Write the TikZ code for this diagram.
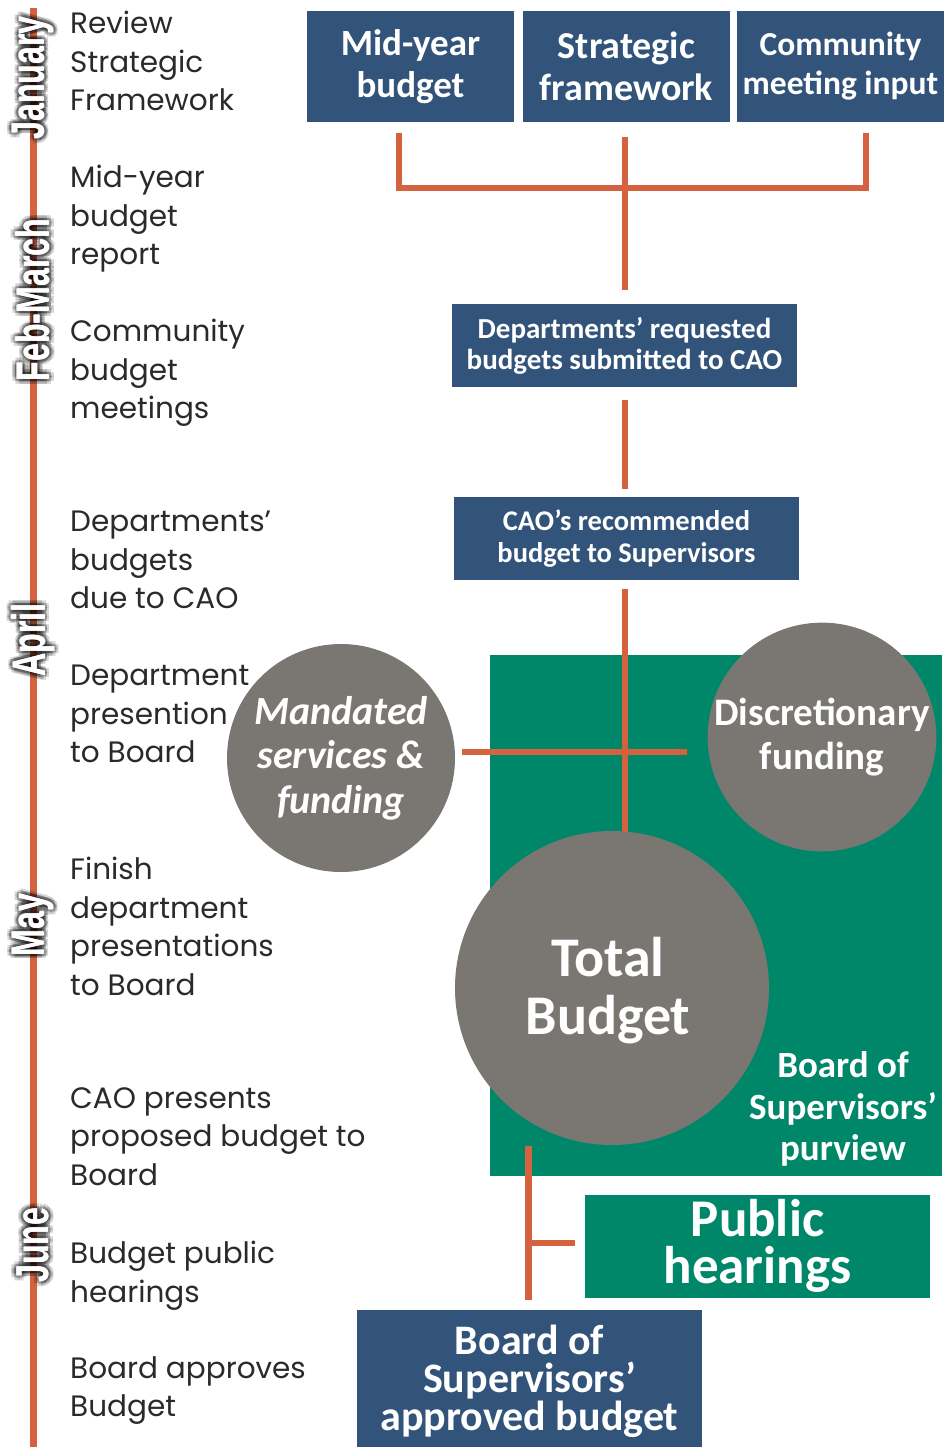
\documentclass[tikz,border=0pt]{standalone}
\usepackage{fontspec}
\setmainfont{Poppins}
\newfontfamily\boxfont{Carlito}
\newfontfamily\monthfont{Liberation Sans}
\usetikzlibrary{calc}
\definecolor{tl}{HTML}{D4623F}
\definecolor{navy}{HTML}{33547A}
\definecolor{teal}{HTML}{00876A}
\definecolor{cgray}{HTML}{7A7772}
\definecolor{txt}{HTML}{2A2A2A}
\tikzset{
  conn/.style={draw=tl, line width=6.5pt},
  timeline/.style={draw=tl, line width=7pt},
  bluebox/.style={rectangle, fill=navy, text=white, font=\boxfont\bfseries, align=center, inner sep=0pt},
  greenbox/.style={rectangle, fill=teal, text=white, font=\boxfont\bfseries, align=center, inner sep=0pt},
  bubble/.style={circle, fill=cgray, text=white, align=center, inner sep=0pt},
  lefttext/.style={anchor=north west, align=left, inner sep=0pt, text=txt, font=\fontsize{29.5}{38.5}\selectfont},
  monthlbl/.style={rotate=90, inner sep=0pt, text=white, font=\monthfont\bfseries\fontsize{46}{46}\selectfont},
  monthshadow/.style={rotate=90, inner sep=0pt, text=black, opacity=0.16, font=\monthfont\bfseries\fontsize{46}{46}\selectfont}
}
\newcommand{\monthtext}[1]{\scalebox{0.7}[1]{#1}}
\begin{document}
\begin{tikzpicture}[x=1pt,y=-1pt]
\useasboundingbox (0,0) rectangle (949,1447);

% timeline
\coordinate (tltop) at (33,8);
\coordinate (tlbot) at (33,1447);
\draw[timeline] (tltop) -- (tlbot);

% months
\foreach \y/\m/\n in {78/January/jan, 300/Feb-March/feb, 640/April/apr, 925/May/may, 1245/June/jun}{
  \foreach \a in {0,45,...,315}{
    \node[monthshadow] at ($(33,\y)+(\a:3)$) {\monthtext{\m}};
    \node[monthshadow] at ($(33,\y)+(\a+22:5)$) {\monthtext{\m}};
  }
  \node[monthlbl] (m\n) at (32.5,\y) {\monthtext{\m}};
  \node[monthlbl] at (33.2,\y) {\monthtext{\m}};
}

% left texts
\node[lefttext] (t1) at (70,11) {Review\\Strategic\\Framework};
\node[lefttext] (t2) at (70,165) {Mid-year\\budget\\report};
\node[lefttext] (t3) at (70,319) {Community\\budget\\meetings};
\node[lefttext] (t4) at (70,511) {Departments’\\budgets\\due to CAO};
\node[lefttext] (t5) at (70,665) {Department\\presention\\to Board};
\node[lefttext] (t6) at (70,857) {Finish\\department\\presentations\\to Board};
\node[lefttext] (t7) at (70,1087) {CAO presents\\proposed budget to\\Board};
\node[lefttext] (t8) at (70,1241) {Budget public\\hearings};
\node[lefttext] (t9) at (70,1356) {Board approves\\Budget};

% top boxes
\node[bluebox, minimum width=207pt, minimum height=111pt, font=\boxfont\bfseries\fontsize{37}{42}\selectfont] (mid) at (410.5,66.5) {Mid-year\\budget};
\node[bluebox, minimum width=207pt, minimum height=111pt, font=\boxfont\bfseries\fontsize{38}{42}\selectfont] (strat) at (626.5,66.5) {Strategic\\framework};
\node[bluebox, minimum width=207pt, minimum height=111pt, font=\boxfont\bfseries\fontsize{33.5}{39}\selectfont] (comm) at (840.5,66.5) {Community\\meeting input};

\node[bluebox, minimum width=345pt, minimum height=83pt, font=\boxfont\bfseries\fontsize{29}{31}\selectfont] (dept) at (624.5,345.5) {Departments’ requested\\budgets submitted to CAO};
\node[bluebox, minimum width=345pt, minimum height=83pt, font=\boxfont\bfseries\fontsize{28.5}{32}\selectfont] (cao) at (626.5,538.5) {CAO’s recommended\\budget to Supervisors};

% purview area
\node[greenbox, minimum width=452pt, minimum height=521pt] (purview) at (716,915.5) {};
\node[text=white, font=\boxfont\bfseries\fontsize{37}{41.5}\selectfont, align=center, inner sep=0pt] (purviewlbl) at (843,1109) {Board of\\Supervisors’\\purview};

% connectors
\draw[conn] ($(mid.south)+(-11.5,11)$) -- ++(0,55) -| ($(comm.south)+(25.5,11)$);
\draw[conn] ($(strat.south)+(-1.5,15)$) -- ($(dept.north)+(0.5,-14)$);
\draw[conn] ($(dept.south)+(0.5,13)$) -- ($(cao.north)+(-1.5,-8)$);

% bubbles
\node[bubble, minimum size=228pt, font=\boxfont\bfseries\itshape\fontsize{40}{44.5}\selectfont] (mand) at (341,758) {Mandated\\services \&\\funding};
\node[bubble, minimum size=227pt, font=\boxfont\bfseries\fontsize{39}{44}\selectfont] (disc) at (822,737) {Discretionary\\funding};

\draw[conn] ($(cao.south)+(-1.5,9)$) -- ($(cao.south)+(-1.5,278)$) coordinate (cross);
\draw[conn] ($(mand.east)+(7,-6)$) -- ($(disc.west)+(-20,15)$);

\node[bubble, minimum size=314pt] (total) at (612,988) {};
\node[text=white, font=\boxfont\bfseries\fontsize{56}{58}\selectfont, align=center, inner sep=0pt] (totallbl) at (608,991) {Total\\Budget};

% bottom
\node[greenbox, minimum width=345pt, minimum height=103pt, font=\boxfont\bfseries\fontsize{53}{47}\selectfont] (public) at (757.5,1246) {Public\\hearings};
\node[bluebox, minimum width=345pt, minimum height=137pt, font=\boxfont\bfseries\fontsize{42}{38}\selectfont] (approved) at (529.5,1378.5) {};
\node[text=white, font=\boxfont\bfseries\fontsize{42}{38}\selectfont, align=center, inner sep=0pt] (approvedlbl) at (529.5,1381.5) {Board of\\Supervisors’\\approved budget};

\draw[conn, line width=7pt] ($(total.south)+(-84,1)$) -- ($(approved.north)+(-1.5,-10)$);
\coordinate (tick) at (528,1243);
\draw[conn, line width=5.5pt] (tick) -- ($(public.west)+(-10,-3)$);
\end{tikzpicture}
\end{document}
